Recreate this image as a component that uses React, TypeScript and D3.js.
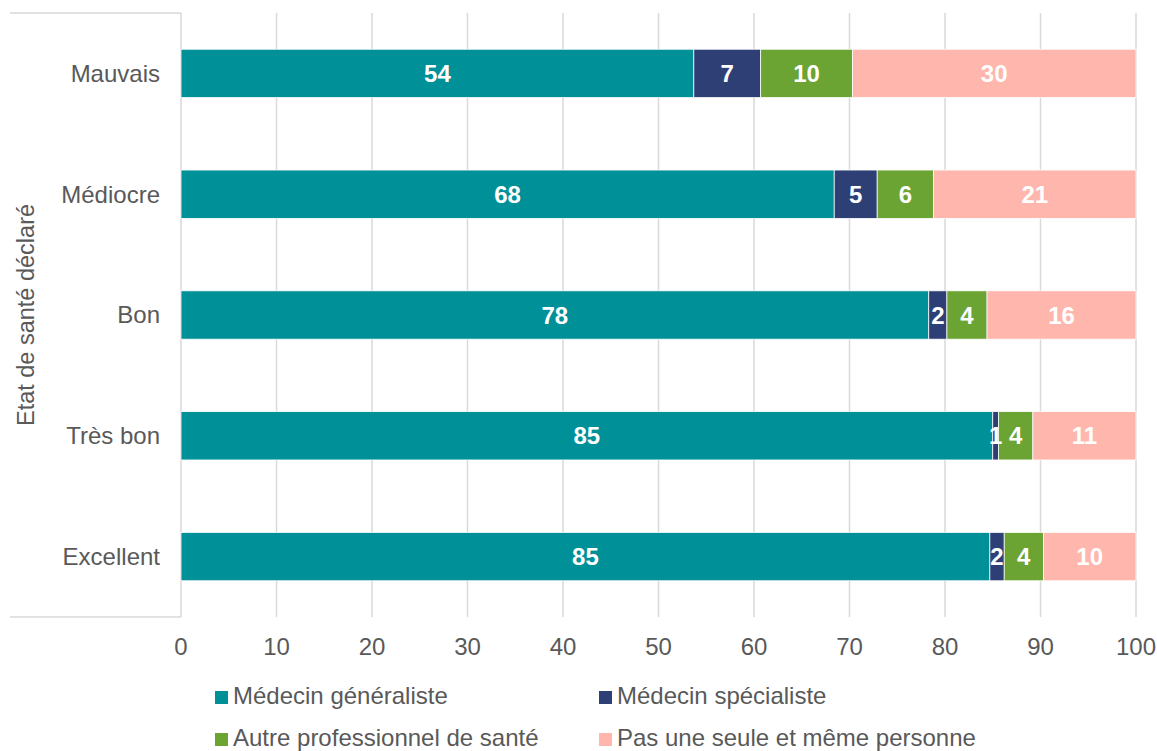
import * as d3 from "d3";

const categories = ["Mauvais", "Médiocre", "Bon", "Très bon", "Excellent"];
const seriesNames = [
  "Médecin généraliste",
  "Médecin spécialiste",
  "Autre professionnel de santé",
  "Pas une seule et même personne",
];
const generaliste = [53.7, 68.4, 78.3, 85.0, 84.7];
const specialiste = [7.0, 4.5, 1.9, 0.6, 1.5];
const autre = [9.6, 5.9, 4.2, 3.6, 4.1];
const personne = [29.7, 21.2, 15.6, 10.8, 9.7];
const xTicks = [0, 10, 20, 30, 40, 50, 60, 70, 80, 90, 100];

const COLORS = ["#009098", "#2E3F75", "#6BA433", "#FFB6AC"];
const FONT = "'Liberation Sans', Arial, sans-serif";
const TEXT = "#595959";

function App() {
  const W = 1157;
  const H = 751;
  const left = 181;
  const right = 1136;
  const top = 13;
  const bottom = 617;

  const rows = categories.map((c, i) => ({
    cat: c,
    gen: generaliste[i],
    spe: specialiste[i],
    aut: autre[i],
    per: personne[i],
  }));
  const keys = ["gen", "spe", "aut", "per"];
  const stacked = d3.stack<any>().keys(keys)(rows);

  const x = d3.scaleLinear().domain([0, 100]).range([left, right]);
  const y = d3
    .scaleBand()
    .domain(categories)
    .range([top, bottom])
    .paddingInner(0.6)
    .paddingOuter(0.3);

  const legendPos = [
    { x: 215, y: 691 },
    { x: 599, y: 691 },
    { x: 215, y: 733 },
    { x: 599, y: 733 },
  ];

  return (
    <svg
      width={W}
      height={H}
      style={{ position: "absolute", left: 0, top: 0, background: "#fff" }}
      fontFamily={FONT}
    >
      {/* gridlines */}
      {xTicks.map((t) => (
        <line
          key={t}
          x1={x(t)}
          x2={x(t)}
          y1={top}
          y2={bottom}
          stroke="#D9D9D9"
          strokeWidth={1.5}
        />
      ))}
      {/* category axis box */}
      <line x1={10} x2={left} y1={top} y2={top} stroke="#D9D9D9" strokeWidth={1.5} />
      <line x1={10} x2={left} y1={bottom} y2={bottom} stroke="#D9D9D9" strokeWidth={1.5} />

      {/* bars */}
      {stacked.map((layer, si) => (
        <g key={layer.key} fill={COLORS[si]}>
          {layer.map((d, i) => (
            <rect
              key={i}
              x={x(d[0])}
              y={y(categories[i])}
              width={x(d[1]) - x(d[0])}
              height={y.bandwidth()}
              stroke="#fff"
              strokeWidth={0.75}
            />
          ))}
        </g>
      ))}
      {/* value labels */}
      {stacked.map((layer) =>
        layer.map((d, i) => (
          <text
            key={layer.key + i}
            x={(x(d[0]) + x(d[1])) / 2}
            y={(y(categories[i]) as number) + y.bandwidth() / 2}
            dy="0.36em"
            textAnchor="middle"
            fill="#fff"
            fontWeight="bold"
            fontSize={24}
          >
            {Math.round(d[1] - d[0] + 1e-9)}
          </text>
        ))
      )}

      {/* category labels */}
      {categories.map((c) => (
        <text
          key={c}
          x={160}
          y={(y(c) as number) + y.bandwidth() / 2}
          dy="0.35em"
          textAnchor="end"
          fill={TEXT}
          fontSize={24}
        >
          {c}
        </text>
      ))}

      {/* x tick labels */}
      {xTicks.map((t) => (
        <text key={t} x={x(t)} y={655} textAnchor="middle" fill={TEXT} fontSize={24}>
          {t}
        </text>
      ))}

      {/* axis title */}
      <text
        transform={`translate(34, ${(top + bottom) / 2}) rotate(-90)`}
        textAnchor="middle"
        fill={TEXT}
        fontSize={23.5}
      >
        Etat de santé déclaré
      </text>

      {/* legend */}
      {seriesNames.map((s, i) => (
        <g key={s}>
          <rect x={legendPos[i].x} y={legendPos[i].y} width={13} height={13} fill={COLORS[i]} />
          <text x={legendPos[i].x + 18} y={legendPos[i].y + 13} fill={TEXT} fontSize={24}>
            {s}
          </text>
        </g>
      ))}
    </svg>
  );
}

export default App;
